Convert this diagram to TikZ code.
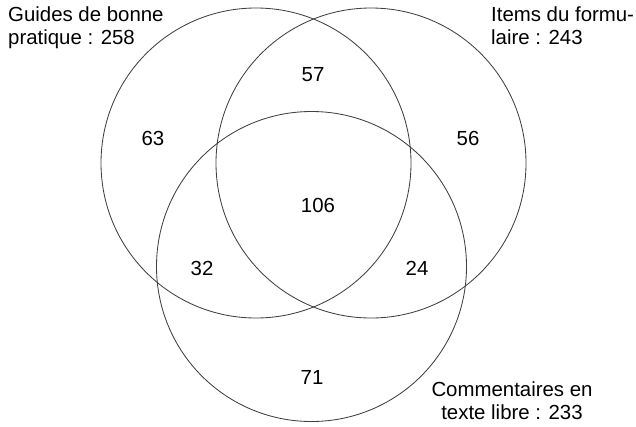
\documentclass[tikz,border=0pt]{standalone}
\usepackage{fontspec}
\setmainfont{Liberation Sans}
\begin{document}
\begin{tikzpicture}[x=1pt,y=-1pt,
		set/.style={draw=black!75,line width=0.85,circle,minimum size=310pt,inner sep=0pt},
		num/.style={font=\fontsize{20.4}{23}\selectfont,inner sep=0pt},
		setlabel/.style={font=\fontsize{20.4}{23}\selectfont,inner sep=0pt}]
		\useasboundingbox (0,0) rectangle (636,426);
		\node[set] (G) at (256,163) {};
		\node[set] (I) at (371,163) {};
		\node[set] (C) at (311.5,266.5) {};
		\node[num] (g) at (153,138) {63};
		\node[num] (gi) at (313,75) {57};
		\node[num] (i) at (468,138) {56};
		\node[num] (gic) at (318,205) {106};
		\node[num] (gc) at (202,268) {32};
		\node[num] (ic) at (417,268) {24};
		\node[num] (c) at (312,377) {71};
		\node[setlabel,align=left,anchor=north west] (Gl) at (8,7) {Guides de bonne\\pratique : 258};
		\node[setlabel,align=left,anchor=north west] (Il) at (491,7) {Items du formu-\\laire : 243};
		\node[setlabel,align=center,anchor=north] (Cl) at (512,382) {Commentaires en\\texte libre : 233};
	\end{tikzpicture}
\end{document}
